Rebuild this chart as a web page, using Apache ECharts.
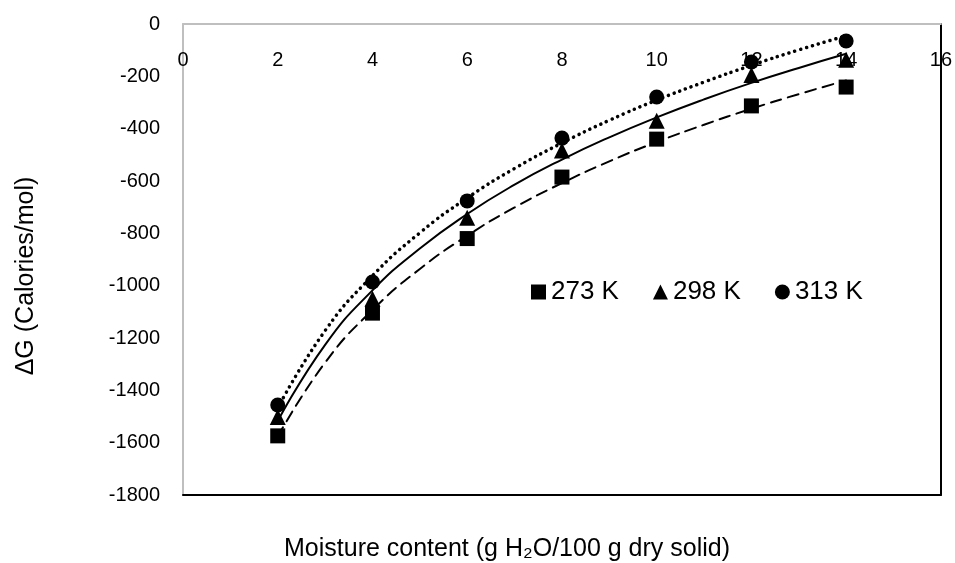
<!DOCTYPE html>
<html>
<head>
<meta charset="utf-8">
<script src="https://cdn.jsdelivr.net/npm/echarts@6/dist/echarts.min.js"></script>
<style>
  html, body { margin: 0; padding: 0; background: #fff; }
  #chart { width: 955px; height: 563px; }
</style>
</head>
<body>
<div id="chart"></div>
<script>
// moisture content (g H2O / 100 g dry solid)
const moisture = [2, 4, 6, 8, 10, 12, 14]
const temps = ['273 K', '298 K', '313 K']

// measured dG (cal/mol)
const dG273 = [-1574, -1105, -820, -585, -440, -313, -241]
const dG298 = [-1502, -1050, -740, -483, -370, -195, -137]
const dG313 = [-1456, -986, -676, -436, -279, -145, -65]

// log trendlines
const trendX = [2, 3, 4, 5, 6, 7, 8, 9, 10, 11, 12, 13, 14]
const trend273 = [-1577, -1294, -1093, -936, -809, -701, -608, -525, -451, -385, -324, -268, -216]
const trend298 = [-1518, -1226, -1018, -858, -726, -614, -518, -433, -357, -288, -225, -168, -114]
const trend313 = [-1468, -1172, -962, -798, -665, -552, -455, -368, -291, -222, -158, -99, -45]

const FONT = 'Liberation Sans, Arial, sans-serif'
const AXIS_GREY = '#bfbfbf'

const pairs = (xs, ys) => xs.map((x, i) => [x, ys[i]])

const chart = echarts.init(document.getElementById('chart'))

const markerSeries = (name, symbol, ys, size) => ({
  name,
  type: 'scatter',
  symbol,
  symbolSize: size,
  itemStyle: { color: '#000', opacity: 1 },
  data: pairs(moisture, ys),
  z: 5
})

const trendSeries = (name, ys, type, width) => ({
  name,
  type: 'line',
  smooth: true,
  showSymbol: false,
  symbol: 'none',
  lineStyle: { color: '#000', width, type, cap: 'round' },
  data: pairs(trendX, ys),
  z: 3
})

chart.setOption({
  animation: false,
  textStyle: { fontFamily: FONT },
  grid: { left: 183, right: 12, top: 24, bottom: 68 },
  xAxis: [
    {
      type: 'value',
      position: 'top',
      min: 0,
      max: 16,
      interval: 2,
      axisLine: { onZero: false, lineStyle: { color: AXIS_GREY, width: 2 } },
      axisTick: { show: false },
      splitLine: { show: false },
      axisLabel: { inside: true, margin: 26, fontSize: 20, color: '#000', fontFamily: FONT }
    },
    {
      type: 'value',
      position: 'bottom',
      min: 0,
      max: 16,
      axisLine: { onZero: false, lineStyle: { color: '#000', width: 2 } },
      axisTick: { show: false },
      axisLabel: { show: false },
      splitLine: { show: false }
    }
  ],
  yAxis: [
    {
      type: 'value',
      min: -1800,
      max: 0,
      interval: 200,
      axisLine: { show: true, onZero: false, lineStyle: { color: AXIS_GREY, width: 2 } },
      axisTick: { show: false },
      splitLine: { show: false },
      axisLabel: {
        margin: 23,
        fontSize: 20,
        color: '#000',
        fontFamily: FONT,
        formatter: (v) => String(v)
      }
    },
    {
      type: 'value',
      position: 'right',
      min: -1800,
      max: 0,
      axisLine: { show: true, onZero: false, lineStyle: { color: '#000', width: 2 } },
      axisTick: { show: false },
      axisLabel: { show: false },
      splitLine: { show: false }
    }
  ],
  legend: {
    data: [
      { name: temps[0], icon: 'rect' },
      { name: temps[1], icon: 'triangle' },
      { name: temps[2], icon: 'circle' }
    ],
    left: 531,
    top: 279,
    padding: 0,
    itemWidth: 15,
    itemHeight: 15,
    itemGap: 34,
    itemStyle: { opacity: 1 },
    textStyle: { fontSize: 26, color: '#000', fontFamily: FONT }
  },
  graphic: [
    {
      type: 'text',
      x: 507,
      y: 549,
      style: {
        text: 'Moisture content (g H\u2082O/100 g dry solid)',
        fontSize: 25,
        fontFamily: FONT,
        fill: '#000',
        textAlign: 'center',
        textVerticalAlign: 'middle'
      }
    },
    {
      type: 'text',
      x: 26,
      y: 276,
      rotation: Math.PI / 2,
      style: {
        text: '\u0394G (Calories/mol)',
        fontSize: 25,
        fontFamily: FONT,
        fill: '#000',
        textAlign: 'center',
        textVerticalAlign: 'middle'
      }
    }
  ],
  series: [
    trendSeries('trend 273', trend273, [11, 7], 2),
    trendSeries('trend 298', trend298, 'solid', 2),
    trendSeries('trend 313', trend313, [0.1, 6], 3.5),
    markerSeries(temps[0], 'rect', dG273, 15),
    markerSeries(temps[1], 'triangle', dG298, 16),
    markerSeries(temps[2], 'circle', dG313, 15)
  ]
})
</script>
</body>
</html>
